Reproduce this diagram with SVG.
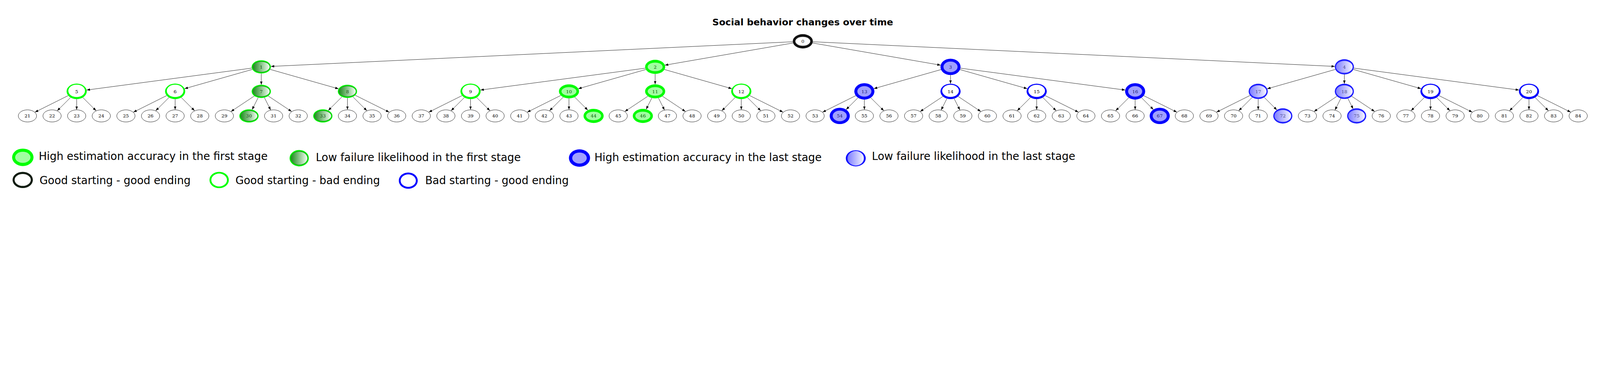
<svg xmlns="http://www.w3.org/2000/svg" xmlns:xlink="http://www.w3.org/1999/xlink" width="7564" height="951" viewBox="0 0 7564 951">
<style>
svg:root{width:100vw;height:calc(100vw * 951 / 7564)}
.bg{fill:#ffffff}
.title{font-family:"DejaVu Sans","Liberation Sans",sans-serif;font-weight:bold;font-size:44px;fill:#000;text-anchor:middle}
.lbl{font-family:"DejaVu Serif","Liberation Serif",serif;font-size:22px;text-anchor:middle;fill:#000}
.cD{fill:#0a5a0a}.cE{fill:#1e4f1e}.cF{fill:#1c1c6e}.cH{fill:#4d4d8c}.c0{fill:#1a1a1a}
.leg{font-family:"DejaVu Sans","Liberation Sans",sans-serif;font-size:50.8px;fill:#000}
.e{fill:none;stroke:#000;stroke-width:1.6;marker-end:url(#arr)}
.reg{fill:#fff;stroke:#000;stroke-width:1.6}
.lime{fill:#00ff00}.blue{fill:#0000ff}.wh{fill:#fff}
.lg{fill:#a0ffa0}.lb{fill:#a0a0ff}
.midg{fill:#14b014}.midb{fill:#3c3cff}
.gg{fill:url(#gradG)}.gb{fill:url(#gradB)}
.thinG{fill:none;stroke:#1ad81a;stroke-width:1.2}
.thinB{fill:none;stroke:#2a2ae0;stroke-width:1.2}
</style>
<defs>
<linearGradient id="gradG" x1="0" y1="0" x2="1" y2="0">
<stop offset="0" stop-color="#228b22"/><stop offset="1" stop-color="#f2fff2"/>
</linearGradient>
<linearGradient id="gradB" x1="0" y1="0" x2="1" y2="0">
<stop offset="0" stop-color="#8080ff"/><stop offset="1" stop-color="#f4f4ff"/>
</linearGradient>
<marker id="arr" markerUnits="userSpaceOnUse" markerWidth="16" markerHeight="12" viewBox="0 0 15 11" refX="15" refY="5.5" orient="auto">
<path d="M0,0 L15,5.5 L0,11 z" fill="#000"/>
</marker>
<g id="sReg"><ellipse rx="43.2" ry="28.7" class="reg"/></g>
<g id="sRoot"><ellipse rx="47.5" ry="33.8" fill="#121212"/><ellipse rx="37" ry="23" fill="#262626"/><ellipse rx="35" ry="21" class="wh"/></g>
<g id="sC"><ellipse rx="47.7" ry="36.7" class="lime"/><ellipse cy="-2.5" rx="39.4" ry="29.5" class="wh"/></g>
<g id="sD"><ellipse rx="47.5" ry="33.3" class="lime"/><ellipse rx="39.2" ry="25" class="thinG"/><ellipse rx="35.3" ry="20.3" class="lg"/></g>
<g id="sE"><ellipse rx="45.5" ry="31.3" class="lime"/><ellipse rx="42.3" ry="27.6" class="midg"/><ellipse rx="39.3" ry="23.8" class="gg"/></g>
<g id="sF"><ellipse rx="47.5" ry="38.7" class="blue"/><ellipse rx="37" ry="29" class="thinB"/><ellipse rx="33.2" ry="25" class="lb"/></g>
<g id="sG"><ellipse rx="47.7" ry="36.5" class="blue"/><ellipse cy="-2.5" rx="39.4" ry="29" class="wh"/></g>
<g id="sH"><ellipse rx="45" ry="35.8" class="blue"/><ellipse rx="42" ry="32.2" class="midb"/><ellipse rx="39" ry="28" class="gb"/></g>
</defs>
<rect class="bg" x="0" y="0" width="7564" height="951"/>
<text id="title" class="title" x="3795" y="120">Social behavior changes over time</text>

<g id="edges">
<path class="e" d="M3747.9,197.7 L1280.6,314.4"/>
<path class="e" d="M3749.2,203.5 L3143.3,308.5"/>
<path class="e" d="M3841.5,203.5 L4447.1,308.5"/>
<path class="e" d="M3842.7,197.7 L6310.6,314.4"/>
<path class="e" d="M1190.5,322.4 L409.4,426.3"/>
<path class="e" d="M1193.2,328.5 L872.6,419.8"/>
<path class="e" d="M1235.2,347.8 L1235.2,401.2"/>
<path class="e" d="M1277.2,328.5 L1600.5,420.5"/>
<path class="e" d="M3050.5,322.7 L2271.4,426.3"/>
<path class="e" d="M3053.2,329 L2733.8,420"/>
<path class="e" d="M3097.2,349.8 L3097.2,399.2"/>
<path class="e" d="M3141.2,329 L3459.7,419.8"/>
<path class="e" d="M4448.8,329.3 L4131.1,419.7"/>
<path class="e" d="M4493.6,355.2 L4493.6,396"/>
<path class="e" d="M4538.4,329.3 L4856.2,419.8"/>
<path class="e" d="M4540.5,322.7 L5319.5,426.3"/>
<path class="e" d="M6313.1,328.6 L5990.6,420.4"/>
<path class="e" d="M6355.5,352.3 L6355.5,396.7"/>
<path class="e" d="M6397.9,328.6 L6718.1,419.8"/>
<path class="e" d="M6399.9,322.4 L7181.3,426.3"/>
<path class="e" d="M322.4,452.5 L165,531.1"/>
<path class="e" d="M333.3,461.6 L270.6,524.2"/>
<path class="e" d="M362.4,469.2 L362.4,519.2"/>
<path class="e" d="M391.5,461.6 L454.3,524.2"/>
<path class="e" d="M787.9,452.5 L630.5,531.1"/>
<path class="e" d="M798.8,461.6 L736.1,524.2"/>
<path class="e" d="M827.9,469.2 L827.9,519.2"/>
<path class="e" d="M857,461.6 L919.8,524.2"/>
<path class="e" d="M1202.5,454.3 L1091.9,527.9"/>
<path class="e" d="M1220.4,462.1 L1191.8,519.1"/>
<path class="e" d="M1250,462.1 L1279.4,520.7"/>
<path class="e" d="M1267.9,454.3 L1378.6,527.9"/>
<path class="e" d="M1616.7,458.3 L1551.9,522.9"/>
<path class="e" d="M1642.5,463.8 L1642.5,519.2"/>
<path class="e" d="M1668.3,458.3 L1734.4,524.2"/>
<path class="e" d="M1679.3,450.9 L1840,531.1"/>
<path class="e" d="M2184.4,452.5 L2026.9,531.1"/>
<path class="e" d="M2195.3,461.6 L2132.5,524.2"/>
<path class="e" d="M2224.4,469.2 L2224.4,519.2"/>
<path class="e" d="M2253.5,461.6 L2316.2,524.2"/>
<path class="e" d="M2651.1,451.8 L2492.4,531.1"/>
<path class="e" d="M2662.5,459.8 L2598,524.2"/>
<path class="e" d="M2689.8,465.8 L2689.8,519.2"/>
<path class="e" d="M2717.1,459.8 L2778.9,521.5"/>
<path class="e" d="M3062.8,455.4 L2953.8,527.9"/>
<path class="e" d="M3081.5,463.9 L3054.7,517.3"/>
<path class="e" d="M3112.9,463.9 L3141.3,520.7"/>
<path class="e" d="M3131.7,455.4 L3240.5,527.9"/>
<path class="e" d="M3475.3,461.6 L3412.6,524.2"/>
<path class="e" d="M3504.4,469.2 L3504.4,519.2"/>
<path class="e" d="M3533.5,461.6 L3596.3,524.2"/>
<path class="e" d="M3544.4,452.5 L3701.9,531.1"/>
<path class="e" d="M4045.8,452.7 L3888.8,531.1"/>
<path class="e" d="M4056.3,462.5 L3999.9,518.7"/>
<path class="e" d="M4086.3,471.2 L4086.3,519.2"/>
<path class="e" d="M4116.3,462.5 L4178.2,524.2"/>
<path class="e" d="M4457.6,456.5 L4350.2,527.9"/>
<path class="e" d="M4476.5,466.6 L4449.4,520.7"/>
<path class="e" d="M4510.7,466.6 L4537.8,520.7"/>
<path class="e" d="M4529.6,456.5 L4636.9,527.9"/>
<path class="e" d="M4871.9,461.5 L4809,524.2"/>
<path class="e" d="M4900.9,469 L4900.9,519.2"/>
<path class="e" d="M4929.9,461.5 L4992.7,524.2"/>
<path class="e" d="M4940.9,452.5 L5098.3,531.1"/>
<path class="e" d="M5336.4,462.5 L5274.5,524.2"/>
<path class="e" d="M5366.4,471.2 L5366.4,519.2"/>
<path class="e" d="M5396.4,462.5 L5452.7,518.7"/>
<path class="e" d="M5406.9,452.7 L5563.8,531.1"/>
<path class="e" d="M5910.1,451.5 L5750.8,531.1"/>
<path class="e" d="M5920.2,460.5 L5856.3,524.2"/>
<path class="e" d="M5948.2,468.3 L5948.2,519.2"/>
<path class="e" d="M5976.3,460.5 L6036.6,520.7"/>
<path class="e" d="M6321,455.5 L6212.1,527.9"/>
<path class="e" d="M6338.8,465.8 L6311.3,520.7"/>
<path class="e" d="M6372.2,465.8 L6397,515.4"/>
<path class="e" d="M6390,455.5 L6498.9,527.9"/>
<path class="e" d="M6733.8,461.5 L6670.9,524.2"/>
<path class="e" d="M6762.8,469 L6762.8,519.2"/>
<path class="e" d="M6791.8,461.5 L6854.7,524.2"/>
<path class="e" d="M6802.8,452.5 L6960.2,531.1"/>
<path class="e" d="M7199.3,461.5 L7136.4,524.2"/>
<path class="e" d="M7228.3,469 L7228.3,519.2"/>
<path class="e" d="M7257.3,461.5 L7320.1,524.2"/>
<path class="e" d="M7268.3,452.5 L7425.7,531.1"/>
</g>

<g id="node0" transform="translate(3795.3,195.5)"><use href="#sRoot"/><text class="lbl c0" y="8">0</text></g>
<g id="node1" transform="translate(1235.2,316.5)"><use href="#sE"/><text class="lbl cE" y="8">1</text></g>
<g id="node2" transform="translate(3097.2,316.5)"><use href="#sD"/><text class="lbl cD" y="8">2</text></g>
<g id="node3" transform="translate(4493.6,316.5)"><use href="#sF"/><text class="lbl cF" y="8">3</text></g>
<g id="node4" transform="translate(6355.5,316.5)"><use href="#sH"/><text class="lbl cH" y="8">4</text></g>
<g id="node5" transform="translate(362.4,432.5)"><use href="#sC"/><text class="lbl" y="8">5</text></g>
<g id="node6" transform="translate(827.9,432.5)"><use href="#sC"/><text class="lbl" y="8">6</text></g>
<g id="node7" transform="translate(1235.2,432.5)"><use href="#sE"/><text class="lbl cE" y="8">7</text></g>
<g id="node8" transform="translate(1642.5,432.5)"><use href="#sE"/><text class="lbl cE" y="8">8</text></g>
<g id="node9" transform="translate(2224.4,432.5)"><use href="#sC"/><text class="lbl" y="8">9</text></g>
<g id="node10" transform="translate(2689.8,432.5)"><use href="#sD"/><text class="lbl cD" y="8">10</text></g>
<g id="node11" transform="translate(3097.2,432.5)"><use href="#sD"/><text class="lbl cD" y="8">11</text></g>
<g id="node12" transform="translate(3504.4,432.5)"><use href="#sC"/><text class="lbl" y="8">12</text></g>
<g id="node13" transform="translate(4086.3,432.5)"><use href="#sF"/><text class="lbl cF" y="8">13</text></g>
<g id="node14" transform="translate(4493.6,432.5)"><use href="#sG"/><text class="lbl" y="8">14</text></g>
<g id="node15" transform="translate(4900.9,432.5)"><use href="#sG"/><text class="lbl" y="8">15</text></g>
<g id="node16" transform="translate(5366.4,432.5)"><use href="#sF"/><text class="lbl cF" y="8">16</text></g>
<g id="node17" transform="translate(5948.2,432.5)"><use href="#sH"/><text class="lbl cH" y="8">17</text></g>
<g id="node18" transform="translate(6355.5,432.5)"><use href="#sH"/><text class="lbl cH" y="8">18</text></g>
<g id="node19" transform="translate(6762.8,432.5)"><use href="#sG"/><text class="lbl" y="8">19</text></g>
<g id="node20" transform="translate(7228.3,432.5)"><use href="#sG"/><text class="lbl" y="8">20</text></g>

<g id="node21" transform="translate(129.7,548.7)"><use href="#sReg"/><text class="lbl" y="8">21</text></g>
<g id="node22" transform="translate(246.1,548.7)"><use href="#sReg"/><text class="lbl" y="8">22</text></g>
<g id="node23" transform="translate(362.4,548.7)"><use href="#sReg"/><text class="lbl" y="8">23</text></g>
<g id="node24" transform="translate(478.8,548.7)"><use href="#sReg"/><text class="lbl" y="8">24</text></g>
<g id="node25" transform="translate(595.2,548.7)"><use href="#sReg"/><text class="lbl" y="8">25</text></g>
<g id="node26" transform="translate(711.6,548.7)"><use href="#sReg"/><text class="lbl" y="8">26</text></g>
<g id="node27" transform="translate(827.9,548.7)"><use href="#sReg"/><text class="lbl" y="8">27</text></g>
<g id="node28" transform="translate(944.3,548.7)"><use href="#sReg"/><text class="lbl" y="8">28</text></g>
<g id="node29" transform="translate(1060.7,548.7)"><use href="#sReg"/><text class="lbl" y="8">29</text></g>
<g id="node30" transform="translate(1177,548.7)"><use href="#sE"/><text class="lbl cE" y="8">30</text></g>
<g id="node31" transform="translate(1293.4,548.7)"><use href="#sReg"/><text class="lbl" y="8">31</text></g>
<g id="node32" transform="translate(1409.8,548.7)"><use href="#sReg"/><text class="lbl" y="8">32</text></g>
<g id="node33" transform="translate(1526.1,548.7)"><use href="#sE"/><text class="lbl cE" y="8">33</text></g>
<g id="node34" transform="translate(1642.5,548.7)"><use href="#sReg"/><text class="lbl" y="8">34</text></g>
<g id="node35" transform="translate(1758.9,548.7)"><use href="#sReg"/><text class="lbl" y="8">35</text></g>
<g id="node36" transform="translate(1875.3,548.7)"><use href="#sReg"/><text class="lbl" y="8">36</text></g>
<g id="node37" transform="translate(1991.6,548.7)"><use href="#sReg"/><text class="lbl" y="8">37</text></g>
<g id="node38" transform="translate(2108,548.7)"><use href="#sReg"/><text class="lbl" y="8">38</text></g>
<g id="node39" transform="translate(2224.4,548.7)"><use href="#sReg"/><text class="lbl" y="8">39</text></g>
<g id="node40" transform="translate(2340.7,548.7)"><use href="#sReg"/><text class="lbl" y="8">40</text></g>
<g id="node41" transform="translate(2457.1,548.7)"><use href="#sReg"/><text class="lbl" y="8">41</text></g>
<g id="node42" transform="translate(2573.5,548.7)"><use href="#sReg"/><text class="lbl" y="8">42</text></g>
<g id="node43" transform="translate(2689.8,548.7)"><use href="#sReg"/><text class="lbl" y="8">43</text></g>
<g id="node44" transform="translate(2806.2,548.7)"><use href="#sD"/><text class="lbl cD" y="8">44</text></g>
<g id="node45" transform="translate(2922.6,548.7)"><use href="#sReg"/><text class="lbl" y="8">45</text></g>
<g id="node46" transform="translate(3039,548.7)"><use href="#sD"/><text class="lbl cD" y="8">46</text></g>
<g id="node47" transform="translate(3155.3,548.7)"><use href="#sReg"/><text class="lbl" y="8">47</text></g>
<g id="node48" transform="translate(3271.7,548.7)"><use href="#sReg"/><text class="lbl" y="8">48</text></g>
<g id="node49" transform="translate(3388.1,548.7)"><use href="#sReg"/><text class="lbl" y="8">49</text></g>
<g id="node50" transform="translate(3504.4,548.7)"><use href="#sReg"/><text class="lbl" y="8">50</text></g>
<g id="node51" transform="translate(3620.8,548.7)"><use href="#sReg"/><text class="lbl" y="8">51</text></g>
<g id="node52" transform="translate(3737.2,548.7)"><use href="#sReg"/><text class="lbl" y="8">52</text></g>
<g id="node53" transform="translate(3853.5,548.7)"><use href="#sReg"/><text class="lbl" y="8">53</text></g>
<g id="node54" transform="translate(3969.9,548.7)"><use href="#sF"/><text class="lbl cF" y="8">54</text></g>
<g id="node55" transform="translate(4086.3,548.7)"><use href="#sReg"/><text class="lbl" y="8">55</text></g>
<g id="node56" transform="translate(4202.7,548.7)"><use href="#sReg"/><text class="lbl" y="8">56</text></g>
<g id="node57" transform="translate(4319,548.7)"><use href="#sReg"/><text class="lbl" y="8">57</text></g>
<g id="node58" transform="translate(4435.4,548.7)"><use href="#sReg"/><text class="lbl" y="8">58</text></g>
<g id="node59" transform="translate(4551.8,548.7)"><use href="#sReg"/><text class="lbl" y="8">59</text></g>
<g id="node60" transform="translate(4668.1,548.7)"><use href="#sReg"/><text class="lbl" y="8">60</text></g>
<g id="node61" transform="translate(4784.5,548.7)"><use href="#sReg"/><text class="lbl" y="8">61</text></g>
<g id="node62" transform="translate(4900.9,548.7)"><use href="#sReg"/><text class="lbl" y="8">62</text></g>
<g id="node63" transform="translate(5017.2,548.7)"><use href="#sReg"/><text class="lbl" y="8">63</text></g>
<g id="node64" transform="translate(5133.6,548.7)"><use href="#sReg"/><text class="lbl" y="8">64</text></g>
<g id="node65" transform="translate(5250,548.7)"><use href="#sReg"/><text class="lbl" y="8">65</text></g>
<g id="node66" transform="translate(5366.4,548.7)"><use href="#sReg"/><text class="lbl" y="8">66</text></g>
<g id="node67" transform="translate(5482.7,548.7)"><use href="#sF"/><text class="lbl cF" y="8">67</text></g>
<g id="node68" transform="translate(5599.1,548.7)"><use href="#sReg"/><text class="lbl" y="8">68</text></g>
<g id="node69" transform="translate(5715.5,548.7)"><use href="#sReg"/><text class="lbl" y="8">69</text></g>
<g id="node70" transform="translate(5831.8,548.7)"><use href="#sReg"/><text class="lbl" y="8">70</text></g>
<g id="node71" transform="translate(5948.2,548.7)"><use href="#sReg"/><text class="lbl" y="8">71</text></g>
<g id="node72" transform="translate(6064.6,548.7)"><use href="#sH"/><text class="lbl cH" y="8">72</text></g>
<g id="node73" transform="translate(6180.9,548.7)"><use href="#sReg"/><text class="lbl" y="8">73</text></g>
<g id="node74" transform="translate(6297.3,548.7)"><use href="#sReg"/><text class="lbl" y="8">74</text></g>
<g id="node75" transform="translate(6413.7,548.7)"><use href="#sH"/><text class="lbl cH" y="8">75</text></g>
<g id="node76" transform="translate(6530.1,548.7)"><use href="#sReg"/><text class="lbl" y="8">76</text></g>
<g id="node77" transform="translate(6646.4,548.7)"><use href="#sReg"/><text class="lbl" y="8">77</text></g>
<g id="node78" transform="translate(6762.8,548.7)"><use href="#sReg"/><text class="lbl" y="8">78</text></g>
<g id="node79" transform="translate(6879.2,548.7)"><use href="#sReg"/><text class="lbl" y="8">79</text></g>
<g id="node80" transform="translate(6995.5,548.7)"><use href="#sReg"/><text class="lbl" y="8">80</text></g>
<g id="node81" transform="translate(7111.9,548.7)"><use href="#sReg"/><text class="lbl" y="8">81</text></g>
<g id="node82" transform="translate(7228.3,548.7)"><use href="#sReg"/><text class="lbl" y="8">82</text></g>
<g id="node83" transform="translate(7344.6,548.7)"><use href="#sReg"/><text class="lbl" y="8">83</text></g>
<g id="node84" transform="translate(7461,548.7)"><use href="#sReg"/><text class="lbl" y="8">84</text></g>

<g id="legend">
<g id="leg1"><ellipse cx="107.8" cy="744.7" rx="50.5" ry="41.3" class="lime"/><ellipse cx="107.8" cy="744.7" rx="36.2" ry="26.3" class="lg"/><text class="leg" x="183" y="756.7">High estimation accuracy in the first stage</text></g>
<g id="leg2"><ellipse cx="1414.5" cy="748.7" rx="45.6" ry="38.7" class="lime"/><ellipse cx="1414.5" cy="748.7" rx="42" ry="34.5" class="midg"/><ellipse cx="1414.5" cy="748.7" rx="38.5" ry="30.5" class="gg"/><text class="leg" x="1493" y="763.3">Low failure likelihood in the first stage</text></g>
<g id="leg3"><ellipse cx="2739.5" cy="748" rx="50" ry="41.3" class="blue"/><ellipse cx="2739.5" cy="748" rx="34.4" ry="26.2" class="lb"/><text class="leg" x="2810" y="763">High estimation accuracy in the last stage</text></g>
<g id="leg4"><ellipse cx="4045.6" cy="749.2" rx="47" ry="38.2" class="blue"/><ellipse cx="4045.6" cy="749.2" rx="41" ry="36" class="midb"/><ellipse cx="4045.6" cy="749.2" rx="38" ry="34" class="gb"/><text class="leg" x="4122" y="757">Low failure likelihood in the last stage</text></g>
<g id="leg5"><ellipse cx="107.3" cy="851.7" rx="48" ry="38.3" fill="#101c10"/><ellipse cx="107.3" cy="851.7" rx="38.2" ry="28.3" class="wh"/><text class="leg" x="187" y="871.7">Good starting - good ending</text></g>
<g id="leg6"><ellipse cx="1036" cy="852" rx="45.7" ry="38.7" class="lime"/><ellipse cx="1036" cy="852" rx="37" ry="30.5" class="wh"/><text class="leg" x="1113" y="871.7">Good starting - bad ending</text></g>
<g id="leg7"><ellipse cx="1930" cy="855" rx="44.8" ry="38.3" class="blue"/><ellipse cx="1930" cy="855" rx="36" ry="29.5" class="wh"/><text class="leg" x="2010" y="871.7">Bad starting - good ending</text></g>
</g>
</svg>
